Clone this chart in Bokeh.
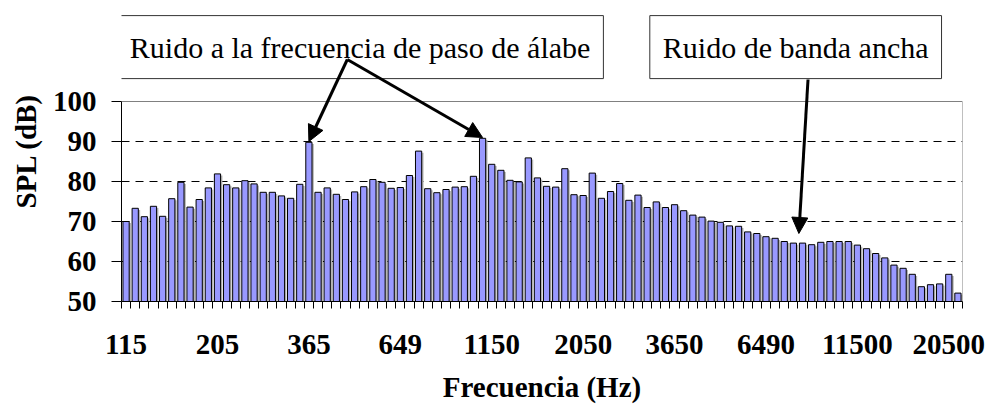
from bokeh.plotting import figure
from bokeh.models import Range1d, FixedTicker, Label, Arrow, NormalHead, ColumnDataSource
from bokeh.transform import dodge
from bokeh.embed import file_html
from bokeh.resources import INLINE

# SPL per 1/12-octave band (dB)
spl_db = [70.0, 73.3, 71.2, 73.8, 71.3, 75.7, 79.8, 73.6, 75.5, 78.4,
          81.9, 79.2, 78.4, 80.2, 79.4, 77.3, 77.3, 76.4, 75.8, 79.3,
          89.8, 77.3, 78.4, 76.8, 75.5, 77.4, 78.7, 80.5, 79.8, 78.3,
          78.5, 81.5, 87.6, 78.2, 77.2, 78.0, 78.6, 78.7, 81.3, 90.8,
          84.3, 82.8, 80.3, 79.9, 85.9, 80.9, 78.8, 78.6, 83.2, 76.7,
          76.5, 82.1, 75.8, 77.5, 79.5, 75.3, 76.6, 73.5, 74.9, 73.5,
          74.2, 72.7, 71.6, 71.1, 70.1, 69.8, 68.9, 68.8, 67.4, 67.0,
          66.2, 65.8, 65.0, 64.6, 64.6, 64.2, 64.8, 65.0, 65.0, 65.0,
          64.1, 63.2, 62.0, 60.9, 59.1, 58.3, 56.8, 53.7, 54.2, 54.4,
          56.8, 52.1]
freq_labels = ["115", "205", "365", "649", "1150", "2050", "3650", "6490", "11500", "20500"]
y_ticks = [50, 60, 70, 80, 90, 100]
grid_levels = [60, 70, 80, 90]
label_step = 10
y_min, y_max = 50, 100

n = len(spl_db)
band = list(range(n))
src = ColumnDataSource(dict(x=band, top=spl_db, shadow_top=[v - 0.4 for v in spl_db]))

SERIF = "'Liberation Serif', 'Times New Roman', Times, serif"

# frame extends above the axis area so that the callout boxes are drawn inside it
p = figure(width=988, height=409, output_backend="svg", toolbar_location=None,
           x_range=Range1d(-0.5, n - 0.5), y_range=Range1d(y_min, y_max + 25.25),
           min_border_left=121, min_border_right=26, min_border_top=0, min_border_bottom=108,
           background_fill_color="white", border_fill_color="white")
p.outline_line_color = None

# shadow and bars
p.vbar(x=dodge("x", 0.2), top="shadow_top", bottom=y_min, width=0.68, source=src,
       fill_color="#b4b4b4", line_color=None)
p.vbar(x="x", top="top", bottom=y_min, width=0.68, source=src,
       fill_color="#9999FF", line_color="black", line_width=1)

# plot-area border (top and right), grey
x_lo, x_hi = -0.5, n - 0.5
p.segment(x0=[x_lo, x_hi], y0=[y_max, y_max], x1=[x_hi, x_hi], y1=[y_max, y_min],
          line_color="#808080", line_width=1)

# grid
p.xgrid.visible = False
p.ygrid.ticker = FixedTicker(ticks=grid_levels)
p.ygrid.grid_line_color = "black"
p.ygrid.grid_line_dash = "8 6"
p.ygrid.grid_line_width = 1

# y axis
yax = p.yaxis[0]
yax.bounds = (y_min, y_max)
yax.ticker = FixedTicker(ticks=y_ticks)
yax.axis_line_color = "black"
yax.major_tick_line_color = "black"
yax.major_tick_out = 10
yax.major_tick_in = 0
yax.minor_tick_line_color = None
yax.major_label_text_font = SERIF
yax.major_label_text_font_style = "bold"
yax.major_label_text_font_size = "29px"
yax.major_label_text_color = "black"
yax.major_label_standoff = 15
yax.axis_label = "SPL (dB)"
yax.axis_label_text_font = SERIF
yax.axis_label_text_font_style = "bold"
yax.axis_label_text_font_size = "29px"
yax.axis_label_text_color = "black"
yax.axis_label_standoff = 8

# x axis
major_x = [i * label_step for i in range(len(freq_labels))]
xax = p.xaxis[0]
xax.ticker = FixedTicker(ticks=major_x, minor_ticks=[i - 0.5 for i in range(n + 1)])
xax.major_label_overrides = {i * label_step: lab for i, lab in enumerate(freq_labels)}
xax.axis_line_color = "black"
xax.major_tick_line_color = None
xax.major_tick_out = 0
xax.major_tick_in = 0
xax.minor_tick_line_color = "black"
xax.minor_tick_out = 7
xax.minor_tick_in = 0
xax.major_label_text_font = SERIF
xax.major_label_text_font_style = "bold"
xax.major_label_text_font_size = "29px"
xax.major_label_text_color = "black"
xax.major_label_standoff = 26
xax.axis_label = "Frecuencia (Hz)"
xax.axis_label_text_font = SERIF
xax.axis_label_text_font_style = "bold"
xax.axis_label_text_font_size = "29px"
xax.axis_label_text_color = "black"
xax.axis_label_standoff = 14

# callout boxes
box_pad = dict(left=13, right=13, top=15, bottom=15)
lab1 = Label(x=25.6, y=113.6, text="Ruido a la frecuencia de paso de álabe",
             text_align="center", text_baseline="middle",
             text_font=SERIF, text_font_size="30px", text_color="black",
             background_fill_color="white", border_line_color="#333333", border_line_width=1,
             padding=box_pad)
lab2 = Label(x=73.25, y=113.6, text="Ruido de banda ancha",
             text_align="center", text_baseline="middle",
             text_font=SERIF, text_font_size="30px", text_color="black",
             background_fill_color="white", border_line_color="#333333", border_line_width=1,
             padding=box_pad)
p.add_layout(lab1)
p.add_layout(lab2)

# arrows
peak_a, peak_b = 20, 39
for tx in (peak_a, peak_b):
    p.add_layout(Arrow(end=NormalHead(size=16, fill_color="black", line_color="black"),
                       x_start=24.2, y_start=110.5, x_end=tx, y_end=spl_db[tx] + 0.2,
                       line_width=3, line_color="black"))
p.add_layout(Arrow(end=NormalHead(size=16, fill_color="black", line_color="black"),
                   x_start=74.6, y_start=105.5, x_end=73.6, y_end=67.0,
                   line_width=3, line_color="black"))

open("out.html", "w").write(file_html(p, INLINE))
